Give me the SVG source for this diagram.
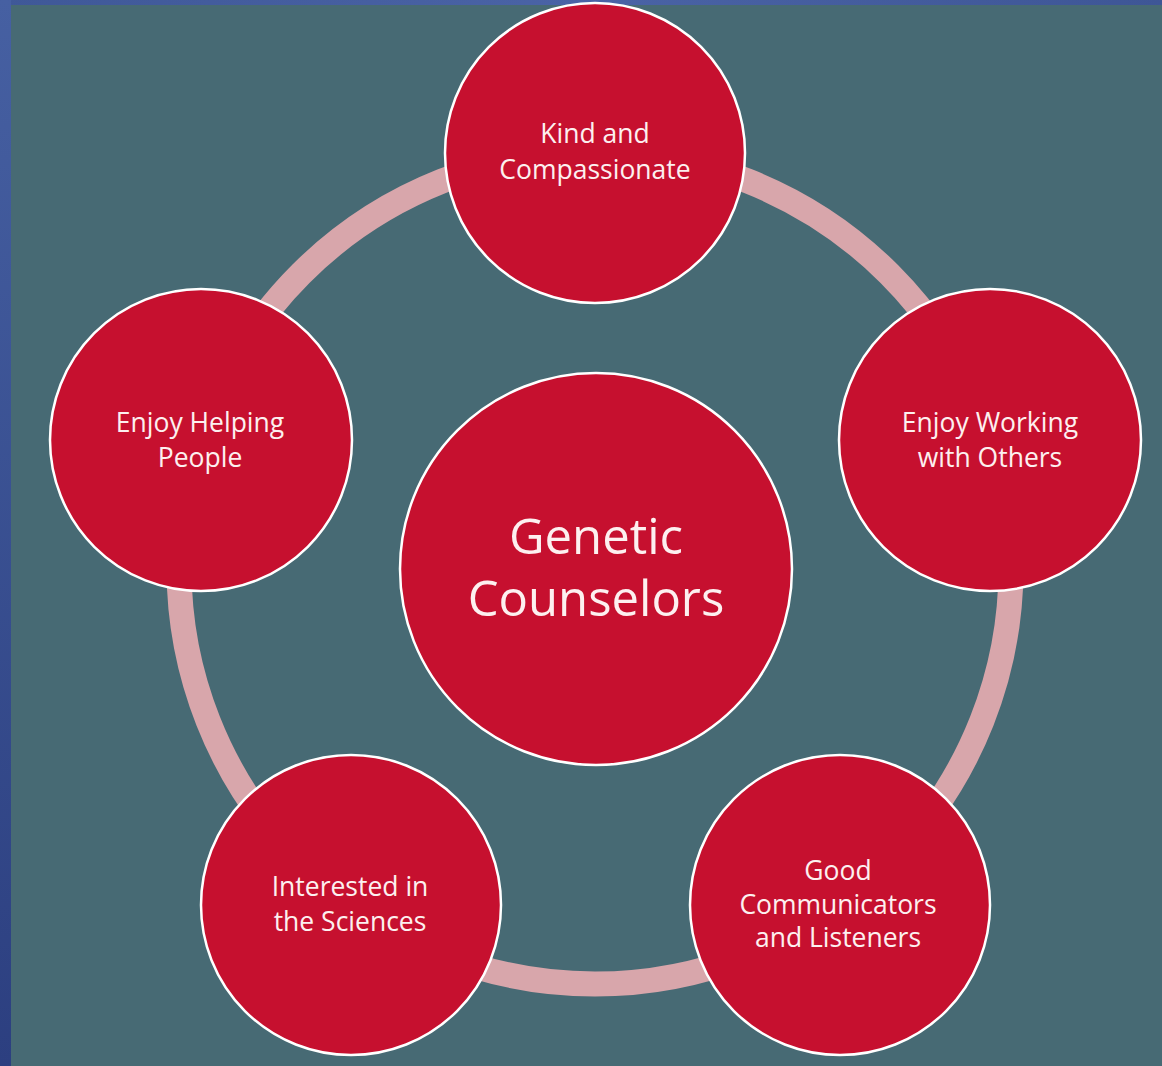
<svg xmlns="http://www.w3.org/2000/svg" width="1162" height="1066" viewBox="0 0 1162 1066">
<defs>
<linearGradient id="edge" x1="0" y1="0" x2="0" y2="1">
<stop offset="0" stop-color="#4660a2"/>
<stop offset="1" stop-color="#2c3f80"/>
</linearGradient>
<linearGradient id="topedge" x1="0" y1="0" x2="1" y2="0">
<stop offset="0" stop-color="#3f5898"/>
<stop offset="0.5" stop-color="#4a63a6"/>
<stop offset="1" stop-color="#3e5696"/>
</linearGradient>
</defs>
<style>
.node{fill:#c6102f;stroke:#ffffff;stroke-width:2.5}
.lbl{font-family:"Open Sans","Liberation Sans",sans-serif;font-size:26.5px;fill:#fdf0f0;text-anchor:middle}
.big{font-family:"Open Sans","Liberation Sans",sans-serif;font-size:49px;fill:#fdf0f0;text-anchor:middle}
</style>
<rect x="0" y="0" width="1162" height="1066" fill="#476a74"/>
<rect x="0" y="0" width="1162" height="5" fill="url(#topedge)"/>
<rect x="0" y="0" width="11" height="1066" fill="url(#edge)"/>
<g id="connectors">
<circle cx="595" cy="568" r="416" fill="none" stroke="#d8a6ab" stroke-width="25"/>
</g>
<g id="center">
<circle class="node" cx="596" cy="569" r="196"/>
<text class="big" x="596" y="554">Genetic</text>
<text class="big" x="596" y="616">Counselors</text>
</g>
<g id="kind">
<circle class="node" cx="595" cy="153" r="150"/>
<text class="lbl" x="595" y="143">Kind and</text>
<text class="lbl" x="595" y="179">Compassionate</text>
</g>
<g id="working">
<circle class="node" cx="990" cy="440" r="151"/>
<text class="lbl" x="990" y="432">Enjoy Working</text>
<text class="lbl" x="990" y="467">with Others</text>
</g>
<g id="communicators">
<circle class="node" cx="840" cy="905" r="150"/>
<text class="lbl" x="838" y="880">Good</text>
<text class="lbl" x="838" y="914">Communicators</text>
<text class="lbl" x="838" y="947">and Listeners</text>
</g>
<g id="sciences">
<circle class="node" cx="351" cy="905" r="150"/>
<text class="lbl" x="350" y="896">Interested in</text>
<text class="lbl" x="350" y="931">the Sciences</text>
</g>
<g id="helping">
<circle class="node" cx="201" cy="440" r="151"/>
<text class="lbl" x="200" y="432">Enjoy Helping</text>
<text class="lbl" x="200" y="467">People</text>
</g>
</svg>
